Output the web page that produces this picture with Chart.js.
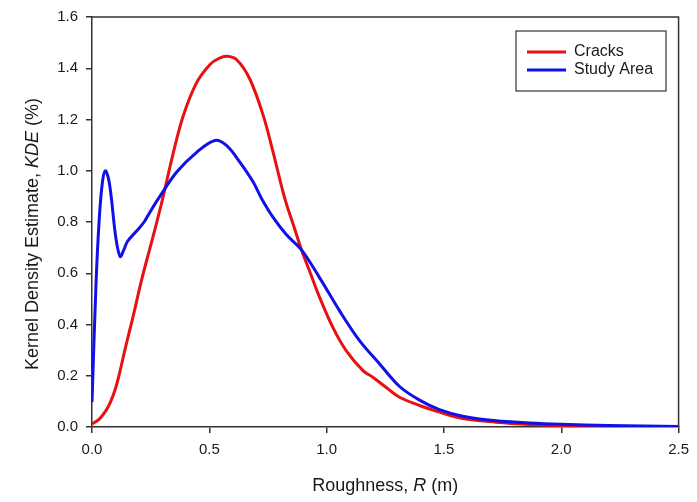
<!DOCTYPE html>
<html>
<head>
<meta charset="utf-8">
<script src="https://cdn.jsdelivr.net/npm/chart.js@4/dist/chart.umd.min.js"></script>
<style>
  html, body { margin: 0; padding: 0; background: #ffffff; }
  #wrap { width: 697px; height: 502px; position: relative; }
</style>
</head>
<body>
<div id="wrap"><canvas id="kde"></canvas></div>
<script>
// Kernel density estimates of roughness R (m), in percent
const seriesNames = ['Cracks', 'Study Area'];

const cracksR = [0, 0.03, 0.06, 0.08, 0.1, 0.12, 0.14, 0.16, 0.18, 0.205, 0.23, 0.255, 0.298, 0.347, 0.389,
  0.446, 0.503, 0.54, 0.574, 0.616, 0.673, 0.73, 0.772, 0.822, 0.865, 0.893, 0.928, 0.971, 1.027, 1.084,
  1.155, 1.197, 1.261, 1.311, 1.396, 1.481, 1.58, 1.722, 1.864, 2.0, 2.2, 2.5];
const cracksKDE = [0.012, 0.03, 0.065, 0.1, 0.15, 0.22, 0.30, 0.375, 0.45, 0.55, 0.64, 0.725, 0.879, 1.072, 1.215,
  1.344, 1.415, 1.438, 1.447, 1.434, 1.357, 1.215, 1.072, 0.891, 0.77, 0.691, 0.607, 0.504, 0.388, 0.297,
  0.22, 0.194, 0.149, 0.116, 0.084, 0.058, 0.033, 0.019, 0.01, 0.005, 0.002, 0.0];

const areaR = [0, 0.017, 0.031, 0.045, 0.057, 0.07, 0.081, 0.102, 0.12, 0.135, 0.151, 0.194, 0.222, 0.248,
  0.283, 0.361, 0.446, 0.524, 0.574, 0.63, 0.687, 0.723, 0.772, 0.829, 0.893, 0.971, 1.056, 1.141, 1.226,
  1.311, 1.396, 1.481, 1.58, 1.722, 1.864, 2.0, 2.2, 2.5];
const areaKDE = [0.097, 0.556, 0.814, 0.96, 1.0, 0.97, 0.905, 0.736, 0.665, 0.69, 0.724, 0.769, 0.80, 0.84,
  0.891, 0.995, 1.072, 1.118, 1.098, 1.034, 0.956, 0.891, 0.818, 0.75, 0.691, 0.581, 0.452, 0.336, 0.246,
  0.158, 0.105, 0.068, 0.042, 0.024, 0.016, 0.011, 0.006, 0.002];

const xTicks = [0, 0.5, 1.0, 1.5, 2.0, 2.5];
const yTicks = [0, 0.2, 0.4, 0.6, 0.8, 1.0, 1.2, 1.4, 1.6];

const colors = ['rgb(232,16,16)', 'rgb(16,16,232)'];
const FONT = '"Liberation Sans", Arial, sans-serif';
const TEXT = '#1a1a1a';

function pairs(xs, ys) { return xs.map((x, i) => ({ x: x, y: ys[i] })); }

// Frame, mixed-style axis titles and boxed legend
const decorations = {
  id: 'decorations',
  afterDraw(chart) {
    const { ctx, chartArea: a } = chart;
    ctx.save();
    // top and right frame lines
    ctx.strokeStyle = '#333333';
    ctx.lineWidth = 1.5;
    ctx.beginPath();
    ctx.moveTo(a.left, a.top);
    ctx.lineTo(a.right, a.top);
    ctx.lineTo(a.right, a.bottom);
    ctx.stroke();

    ctx.fillStyle = TEXT;
    ctx.textBaseline = 'middle';
    const drawParts = (parts, cx, cy) => {
      let total = 0;
      parts.forEach(p => { ctx.font = p[1] + ' 18px ' + FONT; total += ctx.measureText(p[0]).width; });
      let x = cx - total / 2;
      ctx.textAlign = 'left';
      parts.forEach(p => {
        ctx.font = p[1] + ' 18px ' + FONT;
        ctx.fillText(p[0], x, cy);
        x += ctx.measureText(p[0]).width;
      });
    };
    // x title
    drawParts([['Roughness, ', 'normal'], ['R', 'italic'], [' (m)', 'normal']], (a.left + a.right) / 2, 486);
    // y title
    ctx.save();
    ctx.translate(33, 234);
    ctx.rotate(-Math.PI / 2);
    drawParts([['Kernel Density Estimate, ', 'normal'], ['KDE', 'italic'], [' (%)', 'normal']], 0, 0);
    ctx.restore();

    // legend
    const bx = 516, by = 31, bw = 150, bh = 60;
    ctx.fillStyle = '#ffffff';
    ctx.fillRect(bx, by, bw, bh);
    ctx.strokeStyle = '#333333';
    ctx.lineWidth = 1.2;
    ctx.strokeRect(bx, by, bw, bh);
    ctx.font = '16px ' + FONT;
    ctx.textAlign = 'left';
    seriesNames.forEach((name, i) => {
      const y = by + 21 + i * 18;
      ctx.strokeStyle = colors[i];
      ctx.lineWidth = 3;
      ctx.beginPath();
      ctx.moveTo(527, y);
      ctx.lineTo(566, y);
      ctx.stroke();
      ctx.fillStyle = TEXT;
      ctx.fillText(name, 574, y);
    });
    ctx.restore();
  }
};

new Chart(document.getElementById('kde'), {
  type: 'scatter',
  data: {
    datasets: [
      { label: seriesNames[0], data: pairs(cracksR, cracksKDE), order: 2 },
      { label: seriesNames[1], data: pairs(areaR, areaKDE), order: 1 }
    ].map((d, i) => Object.assign(d, {
      showLine: true,
      borderColor: colors[i],
      backgroundColor: colors[i],
      borderWidth: 3,
      pointRadius: 0,
      tension: 0.35,
      fill: false
    }))
  },
  options: {
    responsive: true,
    maintainAspectRatio: false,
    animation: false,
    layout: { padding: { left: 0, right: 16, top: 14, bottom: 0 } },
    plugins: { legend: { display: false }, tooltip: { enabled: false } },
    scales: {
      x: {
        type: 'linear',
        min: 0, max: 2.5,
        afterBuildTicks: s => { s.ticks = xTicks.map(v => ({ value: v })); },
        afterFit: s => { s.height = 75; },
        grid: { drawOnChartArea: false, tickLength: 6, color: '#333333', lineWidth: 1.5 },
        border: { color: '#333333', width: 1.5 },
        ticks: {
          color: TEXT, padding: 8,
          font: { family: FONT, size: 15 },
          callback: v => Number(v).toFixed(1),
          maxRotation: 0
        }
      },
      y: {
        type: 'linear',
        min: 0, max: 1.6,
        afterBuildTicks: s => { s.ticks = yTicks.map(v => ({ value: v })); },
        afterFit: s => { s.width = 92; },
        grid: { drawOnChartArea: false, tickLength: 6, color: '#333333', lineWidth: 1.5 },
        border: { color: '#333333', width: 1.5 },
        ticks: {
          color: TEXT, padding: 8,
          font: { family: FONT, size: 15 },
          callback: v => Number(v).toFixed(1)
        }
      }
    }
  },
  plugins: [decorations]
});
</script>
</body>
</html>
